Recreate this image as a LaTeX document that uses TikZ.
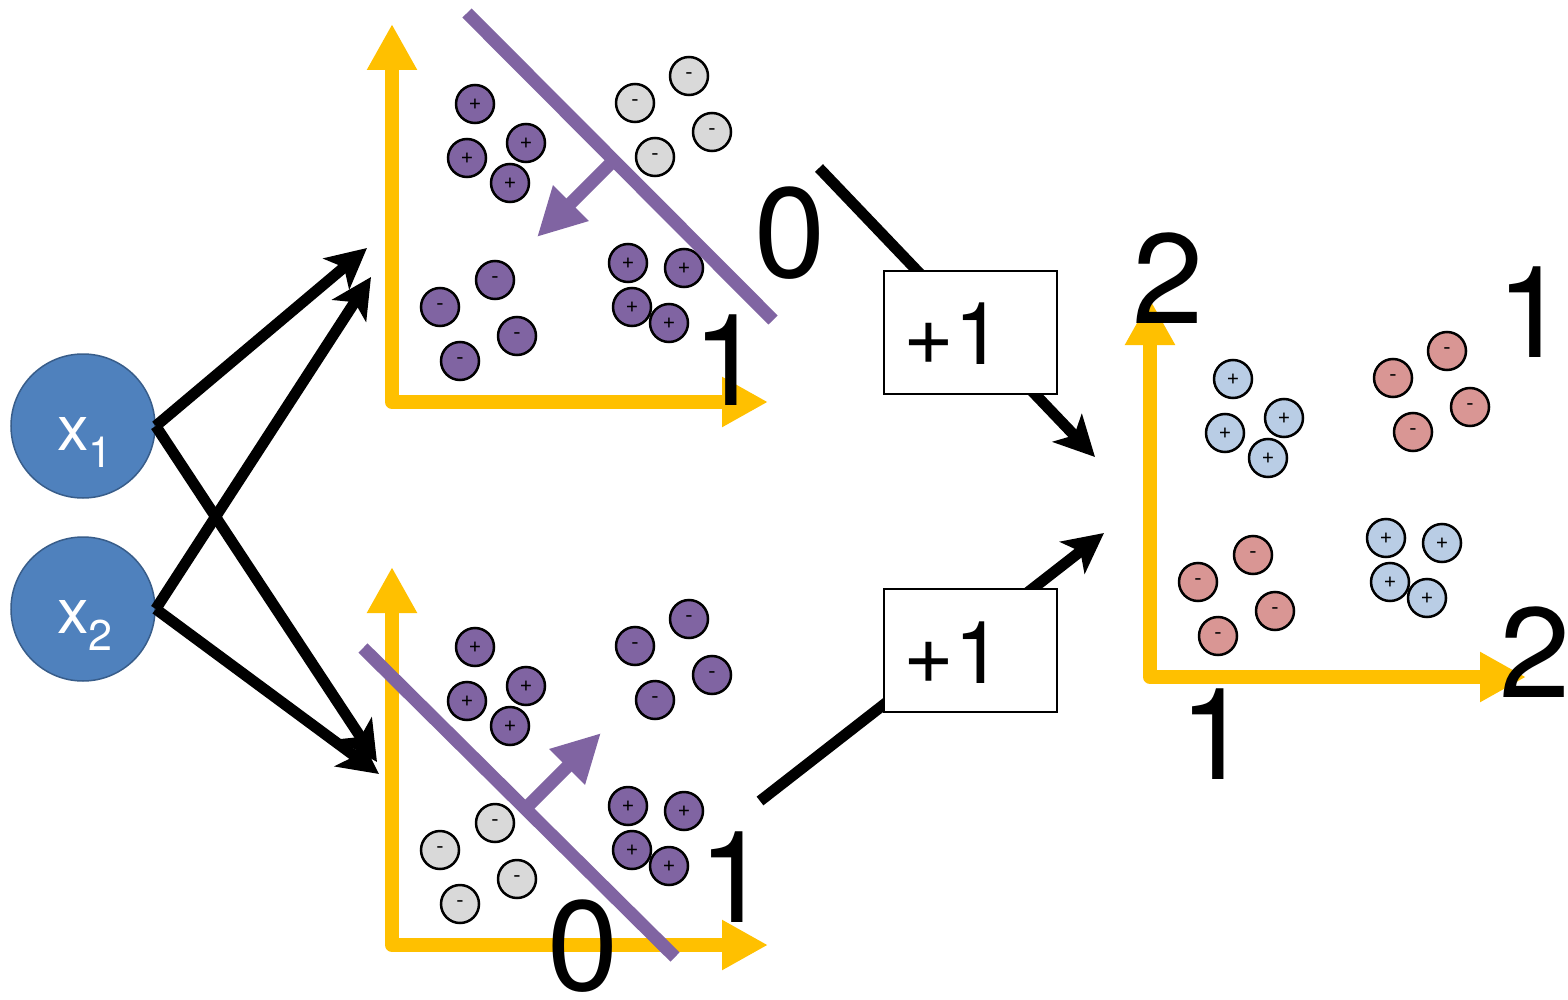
\documentclass[tikz,border=0pt]{standalone}
\usepackage{fontspec}
\setmainfont{TeX Gyre Heros}
\usetikzlibrary{arrows.meta}
\definecolor{axisyellow}{HTML}{FFC000}
\definecolor{sepurple}{HTML}{8064A2}
\definecolor{ptgray}{HTML}{D9D9D9}
\definecolor{ptblue}{HTML}{B9CDE5}
\definecolor{ptred}{HTML}{D99694}
\definecolor{inblue}{HTML}{4F81BD}
\definecolor{inborder}{HTML}{385D8A}
\newcommand\drawpts[7]{%
  \begin{scope}[shift={(#1,#2)}]
    \foreach \px/\py/\nm in {475/104/a1,526/143/a2,467/158/a3,510/183/a4}
      \node[datapt, fill=#3] (#7\nm) at (\px,\py) {+};
    \foreach \px/\py/\nm in {689/76/b1,635/103/b2,712/132/b3,655/157/b4}
      \node[datapt, fill=#4] (#7\nm) at (\px,\py) {-};
    \foreach \px/\py/\nm in {495/280/c1,440/307/c2,517/336/c3,460/361/c4}
      \node[datapt, fill=#5] (#7\nm) at (\px,\py) {-};
    \foreach \px/\py/\nm in {628/263/d1,684/268/d2,632/307/d3,669/323/d4}
      \node[datapt, fill=#6] (#7\nm) at (\px,\py) {+};
  \end{scope}}
\begin{document}
\begin{tikzpicture}[x=1pt,y=-1pt,
  axisline/.style={draw=axisyellow, line width=14pt, line join=round,
    arrows={Triangle[length=46pt,width=47pt]-Triangle[length=46pt,width=47pt]}},
  datapt/.style={circle, draw=black, line width=2.5pt, minimum size=38pt,
    inner sep=0pt, font=\fontsize{22}{22}\selectfont},
  sepline/.style={draw=sepurple, line width=13pt},
  normarrow/.style={draw=sepurple, line width=13pt,
    arrows={-Triangle[length=48pt,width=47pt]}},
  biglabel/.style={anchor=base, inner sep=0pt, font=\fontsize{128}{128}\selectfont},
  conn/.style={draw=black, line width=11pt,
    arrows={-Stealth[length=40pt,width=40pt,inset=10pt]}},
  inputnode/.style={circle, fill=inblue, draw=inborder, line width=1.5pt,
    minimum size=144pt, inner sep=0pt},
  inlabel/.style={anchor=base west, inner sep=0pt, text=white,
    font=\fontsize{63}{63}\selectfont},
  plusbox/.style={draw=black, line width=1.5pt, fill=white,
    minimum width=173pt, minimum height=123pt, inner sep=0pt},
  boxtext/.style={anchor=base west, inner sep=0pt, font=\fontsize{87}{87}\selectfont}
]
\fill[white] (0,0) rectangle (1568,1000);
\useasboundingbox (0,0) rectangle (1568,1000);

% ---------- axes ----------
\coordinate (ta) at (392,24);  \coordinate (to) at (392,402);  \coordinate (tb) at (768,402);
\coordinate (ba) at (392,567); \coordinate (bo) at (392,945);  \coordinate (bb) at (768,945);
\coordinate (ra) at (1150,299);\coordinate (ro) at (1150,677); \coordinate (rb) at (1526,677);
\draw[axisline] (ta) -- (to) -- (tb);
\draw[axisline] (ba) -- (bo) -- (bb);
\draw[axisline] (ra) -- (ro) -- (rb);

% ---------- data points ----------
\drawpts{0}{0}{sepurple}{ptgray}{sepurple}{sepurple}{tp}
\drawpts{0}{543}{sepurple}{sepurple}{ptgray}{sepurple}{bp}
\drawpts{758}{275}{ptblue}{ptred}{ptred}{ptblue}{rp}

% ---------- separators ----------
\coordinate (ts1) at (467,13);  \coordinate (ts2) at (773,320);
\coordinate (tn1) at (614,160); \coordinate (tn2) at (537,237);
\draw[sepline] (ts1) -- (ts2);
\draw[normarrow] (tn1) -- (tn2);
\coordinate (bs1) at (363,648); \coordinate (bs2) at (675,957);
\coordinate (bn1) at (525,809); \coordinate (bn2) at (601,733);
\draw[sepline] (bs1) -- (bs2);
\draw[normarrow] (bn1) -- (bn2);

% ---------- labels ----------
\node[biglabel] (lt0) at (790,277) {0};
\node[biglabel] (lt1) at (728,405) {1};
\node[biglabel] (lb1) at (734,922) {1};
\node[biglabel] (lb0) at (583,990) {0};
\node[biglabel] (lr2a) at (1168,323) {2};
\node[biglabel] (lr1a) at (1532,357) {1};
\node[biglabel] (lr2b) at (1535,697) {2};
\node[biglabel] (lr1b) at (1215,779) {1};

% ---------- inputs ----------
\node[inputnode] (x1) at (83,426) {};
\node[inputnode] (x2) at (83,609) {};
\node[inlabel] (x1t) at (57,450) {x\raisebox{-17pt}{\fontsize{43}{43}\selectfont 1}};
\node[inlabel] (x2t) at (57,633) {x\raisebox{-17pt}{\fontsize{43}{43}\selectfont 2}};

\coordinate (t1) at (367,248);
\coordinate (t2) at (371,277);
\coordinate (b1) at (377,762);
\coordinate (b2) at (379,774);
\draw[conn] (x1.east) -- (t1);
\draw[conn] (x2.east) -- (t2);
\draw[conn] (x1.east) -- (b1);
\draw[conn] (x2.east) -- (b2);

% ---------- +1 boxes ----------
\coordinate (o1s) at (819,168); \coordinate (o1e) at (1095,457);
\coordinate (o2s) at (760,801); \coordinate (o2e) at (1104,533);
\draw[conn] (o1s) -- (o1e);
\draw[conn] (o2s) -- (o2e);
\node[plusbox] (box1) at (970.5,332.5) {};
\node[plusbox] (box2) at (970.5,650.5) {};
\node[boxtext] (box1t) at (903,364) {+1};
\node[boxtext] (box2t) at (903,683) {+1};
\end{tikzpicture}
\end{document}
